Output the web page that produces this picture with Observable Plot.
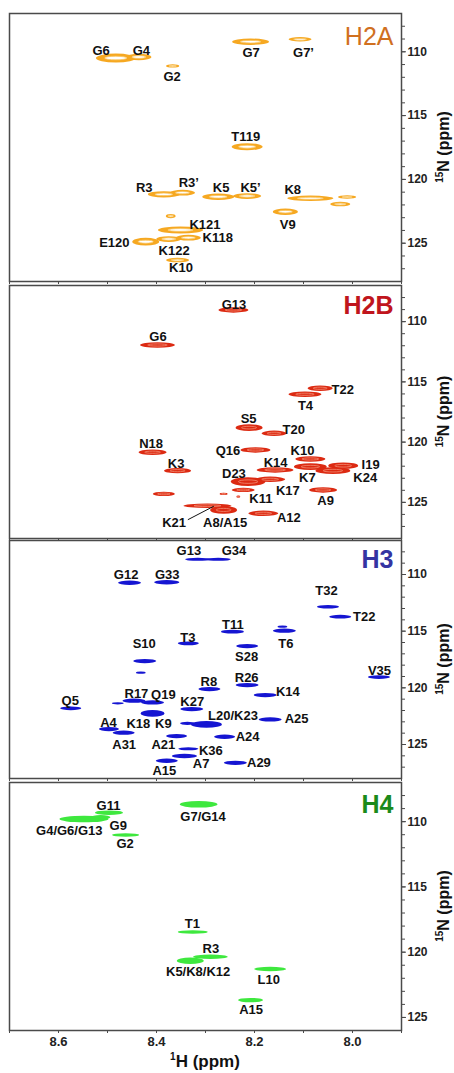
<!DOCTYPE html>
<html><head><meta charset="utf-8">
<script src="https://cdn.jsdelivr.net/npm/d3@7"></script>
<script src="https://cdn.jsdelivr.net/npm/@observablehq/plot@0.6"></script>
<style>
body{margin:0;background:#fff;}
#chart{position:relative;width:454px;height:1073px;}
#chart svg{position:absolute;left:0;overflow:visible;}
</style></head><body><div id="chart"></div>
<script>
// ---- data: peaks [1H ppm, 15N ppm, width ppm, height ppm]; labels [text, 1H ppm, 15N ppm]
const h2aPeaks = [
  [8.482,110.53,0.081,0.70],[8.435,110.45,0.051,0.52],[8.366,111.15,0.027,0.26],
  [8.207,109.25,0.075,0.50],[8.106,109.06,0.047,0.34],[8.214,117.48,0.063,0.55],
  [8.384,121.21,0.065,0.50],[8.346,121.08,0.051,0.45],[8.273,121.40,0.065,0.50],
  [8.214,121.34,0.057,0.45],[8.085,121.52,0.094,0.42],[8.010,121.42,0.037,0.26],
  [8.024,121.97,0.041,0.36],[8.136,122.57,0.051,0.50],[8.370,122.91,0.020,0.33],
  [8.350,124.00,0.092,0.55],[8.334,124.61,0.051,0.45],[8.421,124.92,0.055,0.60],
  [8.374,124.71,0.051,0.45],[8.356,126.36,0.047,0.36]
];
const h2aLabels = [
  ["G6",8.513,109.9],["G4",8.431,109.9],["G2",8.368,112.0],["G7",8.207,110.08],
  ["G7’",8.100,110.06],["T119",8.218,116.64],["R3",8.425,120.69],["R3’",8.334,120.3],
  ["K5",8.268,120.69],["K5’",8.208,120.69],["K8",8.122,120.79],["V9",8.132,123.54],
  ["K121",8.301,123.54],["K118",8.275,124.58],["E120",8.486,125.0],["K122",8.364,125.57],
  ["K10",8.350,126.96]
];
const h2bPeaks = [
  [8.242,109.07,0.061,0.45],[8.397,111.98,0.071,0.45],[8.065,115.57,0.051,0.45],
  [8.096,116.07,0.067,0.45],[8.210,118.84,0.055,0.55],[8.159,119.31,0.051,0.45],
  [8.407,120.88,0.057,0.45],[8.197,120.69,0.061,0.45],[8.085,121.44,0.061,0.45],
  [8.356,122.41,0.055,0.45],[8.157,122.35,0.075,0.45],[8.085,122.08,0.067,0.55],
  [8.018,122.00,0.061,0.55],[8.039,122.41,0.071,0.55],[8.212,123.32,0.071,0.72],
  [8.167,123.13,0.061,0.45],[8.222,124.01,0.047,0.36],[8.262,124.34,0.016,0.18],
  [8.232,124.57,0.008,0.18],[8.384,124.34,0.045,0.36],[8.059,124.01,0.057,0.45],
  [8.295,125.32,0.098,0.36],[8.262,125.67,0.055,0.64],[8.181,125.95,0.061,0.45]
];
const h2bLabels = [
  ["G13",8.242,108.58],["G6",8.397,111.23],["T22",8.020,115.66],["T4",8.096,116.96],
  ["S5",8.212,118.06],["T20",8.120,118.98],["N18",8.411,120.14],["Q16",8.254,120.75],
  ["K10",8.102,120.69],["K3",8.360,121.80],["K14",8.157,121.75],["K7",8.092,122.96],
  ["I19",7.963,121.88],["K24",7.974,122.99],["D23",8.242,122.63],["K17",8.132,124.07],
  ["K11",8.187,124.70],["A9",8.055,124.90],["K21",8.364,126.71],["A8/A15",8.260,126.71],
  ["A12",8.130,126.31]
];
const h2bLeader = [[8.336,126.44,8.283,125.32]];
const h3Peaks = [
  [8.315,108.70,0.051,0.28],[8.273,108.70,0.051,0.28],[8.454,110.77,0.047,0.38],
  [8.378,110.73,0.051,0.38],[8.049,112.89,0.045,0.33],[8.024,113.77,0.045,0.33],
  [8.244,115.09,0.047,0.33],[8.142,114.65,0.020,0.20],[8.138,115.00,0.047,0.38],
  [8.334,116.12,0.043,0.33],[8.214,116.36,0.045,0.38],[8.423,117.68,0.047,0.38],
  [8.431,118.71,0.020,0.20],[7.945,119.09,0.045,0.33],[8.291,120.15,0.045,0.38],
  [8.214,119.80,0.047,0.38],[8.177,120.68,0.047,0.38],[8.574,121.85,0.043,0.33],
  [8.478,121.41,0.024,0.20],[8.445,121.18,0.047,0.38],[8.407,121.33,0.047,0.38],
  [8.407,122.30,0.049,0.58],[8.327,121.92,0.047,0.38],[8.297,123.27,0.063,0.58],
  [8.336,123.18,0.030,0.28],[8.167,122.83,0.047,0.38],[8.496,123.68,0.041,0.38],
  [8.466,124.00,0.045,0.38],[8.358,124.30,0.043,0.38],[8.260,124.36,0.043,0.38],
  [8.334,125.42,0.041,0.28],[8.342,126.06,0.051,0.38],[8.378,126.48,0.045,0.38],
  [8.238,126.66,0.047,0.38]
];
const h3Labels = [
  ["G13",8.334,107.88],["G34",8.242,107.88],["G12",8.462,110.03],["G33",8.378,110.0],
  ["T32",8.053,111.41],["T22",7.976,113.77],["T11",8.244,114.44],["T6",8.136,116.12],
  ["T3",8.336,115.59],["S28",8.216,117.3],["S10",8.425,116.12],["V35",7.945,118.47],
  ["R8",8.293,119.5],["R26",8.216,119.12],["K14",8.132,120.33],["Q5",8.576,121.12],
  ["R17",8.441,120.53],["Q19",8.386,120.62],["K18",8.437,123.18],["K9",8.386,123.18],
  ["K27",8.327,121.21],["L20/K23",8.244,122.5],["A25",8.114,122.74],["A4",8.498,123.09],
  ["A31",8.466,125.03],["A21",8.386,125.03],["A24",8.214,124.36],["K36",8.289,125.53],
  ["A7",8.309,126.71],["A15",8.384,127.36],["A29",8.191,126.66]
];
const h4Peaks = [
  [8.313,108.71,0.077,0.50],[8.496,109.35,0.057,0.34],[8.547,109.84,0.100,0.50],
  [8.513,109.70,0.040,0.33],[8.462,111.06,0.055,0.26],[8.325,118.49,0.061,0.26],
  [8.289,120.39,0.071,0.34],[8.330,120.69,0.055,0.50],[8.167,121.33,0.065,0.34],
  [8.207,123.71,0.051,0.34]
];
const h4Labels = [
  ["G7/G14",8.305,109.66],["G11",8.498,108.76],["G4/G6/G13",8.578,110.68],["G9",8.478,110.3],
  ["G2",8.464,111.7],["T1",8.327,117.83],["R3",8.289,119.74],["K5/K8/K12",8.315,121.54],
  ["L10",8.171,122.1],["A15",8.207,124.42]
];
const xMinorTicks = [8.7,8.6,8.5,8.4,8.3,8.2,8.1,8.0,7.9];
const xTickLabels = [8.6,8.4,8.2,8.0];
const yMajorTicks = [110,115,120,125];

const FONT = "Liberation Sans, Arial, Helvetica, sans-serif";
const panels = [
  {peaks:h2aPeaks, labels:h2aLabels, color:"#f6a821", inner:{fill:"#ffffff", stroke:"#f9c766"}, title:"H2A", titleColor:"#d0701f", titleWeight:"normal",
   top:0, height:285, mt:13, mb:4, dom:[107,128], titleDy:31},
  {peaks:h2bPeaks, labels:h2bLabels, color:"#dc2a12", inner:{fill:"none", stroke:"#f38b72"}, title:"H2B", titleColor:"#c0151d", titleWeight:"bold",
   top:281, height:261, mt:4, mb:4, dom:[107,128], titleDy:28, leader:h2bLeader},
  {peaks:h3Peaks, labels:h3Labels, color:"#1515d2", inner:null, title:"H3", titleColor:"#3434a2", titleWeight:"bold",
   top:536, height:246, mt:4, mb:4, dom:[107,128], titleDy:27},
  {peaks:h4Peaks, labels:h4Labels, color:"#3ee83e", inner:null, title:"H4", titleColor:"#1b8a1b", titleWeight:"bold",
   top:778, height:295, mt:4, mb:43, dom:[107,126], titleDy:30, last:true}
];

const chart = document.getElementById("chart");
for (const p of panels) {
  const ymin = p.dom[0], ymax = p.dom[1];
  const minor = d3.range(ymin + 1, ymax);
  const marks = [
    Plot.rect(p.peaks, {x1: d => d[0] + d[2]/2, x2: d => d[0] - d[2]/2, y1: d => d[1] - d[3]/2, y2: d => d[1] + d[3]/2,
      rx: 200, ry: 200, fill: p.color})
  ];
  if (p.inner) {
    marks.push(Plot.rect(p.peaks, {x1: d => d[0] + d[2]*0.28, x2: d => d[0] - d[2]*0.28, y1: d => d[1] - d[3]*0.2, y2: d => d[1] + d[3]*0.2,
      rx: 200, ry: 200, fill: p.inner.fill, stroke: p.inner.stroke, strokeWidth: 0.8}));
  }
  if (p.leader) {
    marks.push(Plot.link(p.leader, {x1: d => d[0], y1: d => d[1], x2: d => d[2], y2: d => d[3], stroke: "#111", strokeWidth: 1}));
  }
  marks.push(
    Plot.text(p.labels, {x: d => d[1], y: d => d[2], text: d => d[0], fontSize: 13, fontWeight: "bold", fill: "#111", fontFamily: FONT}),
    Plot.frame({stroke: "#4a4a4a", strokeWidth: 1.5}),
    Plot.axisY({anchor: "right", ticks: minor, tickSize: 3, tickFormat: () => "", label: null, stroke: "#4a4a4a"}),
    Plot.axisY({anchor: "right", ticks: yMajorTicks, tickSize: 4, tickPadding: 2, label: null, fontSize: 12, fontWeight: "bold", fill: "#222", stroke: "#4a4a4a"}),
    Plot.axisX({anchor: "bottom", ticks: xMinorTicks, tickSize: 3, tickFormat: () => "", label: null, stroke: "#4a4a4a"}),
    Plot.text([p.title], {frameAnchor: "top-right", text: d => d, dx: -8, dy: p.titleDy, lineAnchor: "bottom",
      fontSize: 25, fontWeight: p.titleWeight, fill: p.titleColor, fontFamily: FONT})
  );
  if (p.last) {
    marks.push(Plot.axisX({anchor: "bottom", ticks: xTickLabels, tickSize: 3, tickPadding: 3, tickFormat: d => d.toFixed(1),
      label: null, fontSize: 13, fontWeight: "bold", fill: "#222", stroke: "#4a4a4a"}));
  }
  const svg = Plot.plot({
    width: 454, height: p.height,
    marginLeft: 9, marginRight: 53, marginTop: p.mt, marginBottom: p.mb,
    x: {domain: [8.7, 7.9], axis: null},
    y: {domain: [ymin, ymax], reverse: true, axis: null},
    style: {fontFamily: FONT, overflow: "visible", background: "transparent"},
    marks
  });
  svg.style.top = p.top + "px";
  chart.appendChild(svg);
  // rotated 15N axis title
  const s = d3.select(svg);
  const cy = p.mt + (p.height - p.mt - p.mb) / 2;
  const t = s.append("text")
    .attr("transform", `translate(449,${cy}) rotate(-90)`)
    .attr("text-anchor", "middle")
    .attr("font-family", FONT).attr("font-weight", "bold").attr("font-size", 16).attr("fill", "#111");
  t.append("tspan").attr("font-size", 10).attr("dy", -6).text("15");
  t.append("tspan").attr("dy", 6).text("N (ppm)");
  if (p.last) {
    const xt = s.append("text")
      .attr("x", 205).attr("y", p.height - 6)
      .attr("text-anchor", "middle")
      .attr("font-family", FONT).attr("font-weight", "bold").attr("font-size", 17).attr("fill", "#111");
    xt.append("tspan").attr("font-size", 10).attr("dy", -7).text("1");
    xt.append("tspan").attr("dy", 7).text("H (ppm)");
  }
}
</script></body></html>
